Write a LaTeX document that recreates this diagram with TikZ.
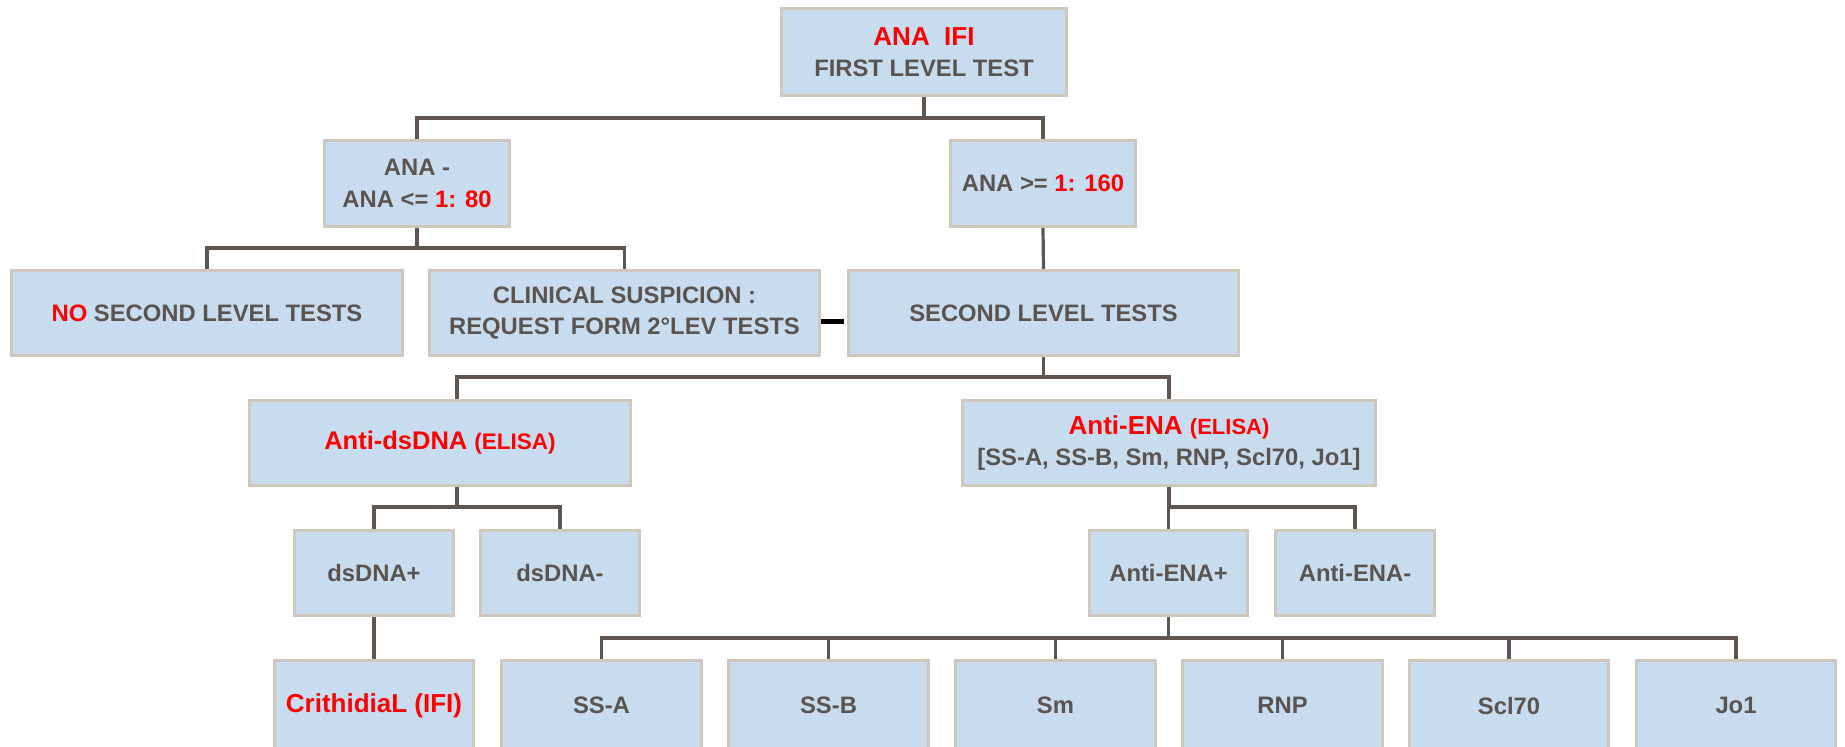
\documentclass[tikz,border=0pt]{standalone}
\usepackage{fontspec}
\setmainfont{Liberation Sans}
\definecolor{boxfill}{HTML}{C8DCEF}
\definecolor{boxline}{HTML}{CEC7BA}
\definecolor{connc}{HTML}{5F5650}
\definecolor{txt}{HTML}{5B534E}
\definecolor{hot}{HTML}{FF0000}
\tikzset{
  box/.style={draw=boxline, line width=3pt, fill=boxfill, inner sep=0pt, text=txt,
    font=\fontsize{23.8}{31.5}\selectfont\bfseries, align=center},
  link/.style={draw=connc, line width=3.2pt},
}
\newcommand\mybox[6]{\node[box, minimum width={(#4)-(#2)-3}, minimum height={(#5)-(#3)-3}] (#1) at ({((#2)+(#4))/2},{((#3)+(#5))/2}) {#6};}
\begin{document}
\begin{tikzpicture}[x=1pt,y=-1pt]
\useasboundingbox (0,0) rectangle (1845,747);
\clip (0,0) rectangle (1845,747);
\fill[white] (0,0) rectangle (1845,747);
\coordinate (y1) at (0,118);
\coordinate (y2) at (0,248);
\coordinate (y3) at (0,377);
\coordinate (y4) at (0,507);
\coordinate (y5) at (0,638);

\mybox{top}{780}{7}{1068}{97}{{\color{hot}\fontsize{26}{31.5}\selectfont ANA\ \ IFI}\\FIRST LEVEL TEST}
\mybox{anaN}{323}{139}{511}{228}{ANA -\\ANA <= {\color{hot}1: 80}}
\mybox{anaP}{949}{139}{1137}{228}{ANA >= {\color{hot}1: 160}}
\mybox{no}{10}{269}{404}{357}{{\color{hot}NO} SECOND LEVEL TESTS}
\mybox{clin}{428}{269}{821}{357}{CLINICAL SUSPICION :\\REQUEST FORM 2°LEV TESTS}
\mybox{sec}{847}{269}{1240}{357}{SECOND LEVEL TESTS}
\mybox{dsdna}{248}{399}{632}{487}{{\color{hot}\fontsize{25.5}{31.5}\selectfont Anti-dsDNA {\fontsize{22.5}{31.5}\selectfont (ELISA)}}}
\mybox{ena}{961}{399}{1377}{487}{{\color{hot}\fontsize{26}{31.5}\selectfont Anti-ENA {\fontsize{22}{31.5}\selectfont (ELISA)}}\\{[}SS-A, SS-B, Sm, RNP, Scl70, Jo1{]}}
\mybox{dp}{293}{529}{455}{617}{dsDNA+}
\mybox{dm}{479}{529}{641}{617}{dsDNA-}
\mybox{ep}{1088}{529}{1249}{617}{Anti-ENA+}
\mybox{em}{1274}{529}{1436}{617}{Anti-ENA-}
\mybox{crith}{273}{659}{475}{752}{{\color{hot}\fontsize{26}{31.5}\selectfont CrithidiaL (IFI)}}
\mybox{ssa}{500}{659}{703}{752}{SS-A}
\mybox{ssb}{727}{659}{930}{752}{SS-B}
\mybox{sm}{954}{659}{1157}{752}{Sm}
\mybox{rnp}{1181}{659}{1384}{752}{RNP}
\mybox{scl}{1408}{659}{1610}{752}{Scl70}
\mybox{jo}{1635}{659}{1837}{752}{Jo1}

\draw[link] (top.south) -- (top.south |- y1);
\draw[link] (anaN.north) |- (anaP.north |- y1) -- (anaP.north);
\draw[link] (anaN.south) -- (anaN.south |- y2);
\draw[link] (no.north) |- (clin.north |- y2) -- (clin.north);
\draw[link] (anaP.south) -- (sec.north);
\draw[black, line width=5pt, shorten >=3pt] ([yshift=-8pt]clin.east) -- ([yshift=-8pt]sec.west);
\draw[link] (sec.south) -- (sec.south |- y3);
\draw[link] ([xshift=17pt]dsdna.north) |- (ena.north |- y3) -- (ena.north);
\draw[link] ([xshift=17pt]dsdna.south) -- ([xshift=17pt]dsdna.south |- y4);
\draw[link] (dp.north) |- (dm.north |- y4) -- (dm.north);
\draw[link] (ena.south) -- (ena.south |- y4);
\draw[link] (ep.north) |- (em.north |- y4) -- (em.north);
\draw[link] (dp.south) -- (crith.north);
\draw[link] (ep.south) -- (ep.south |- y5);
\draw[link] (ssa.north) |- (jo.north |- y5) -- (jo.north);
\foreach \n in {ssb,sm,rnp,scl} \draw[link] (\n.north) -- (\n.north |- y5);
\end{tikzpicture}
\end{document}
